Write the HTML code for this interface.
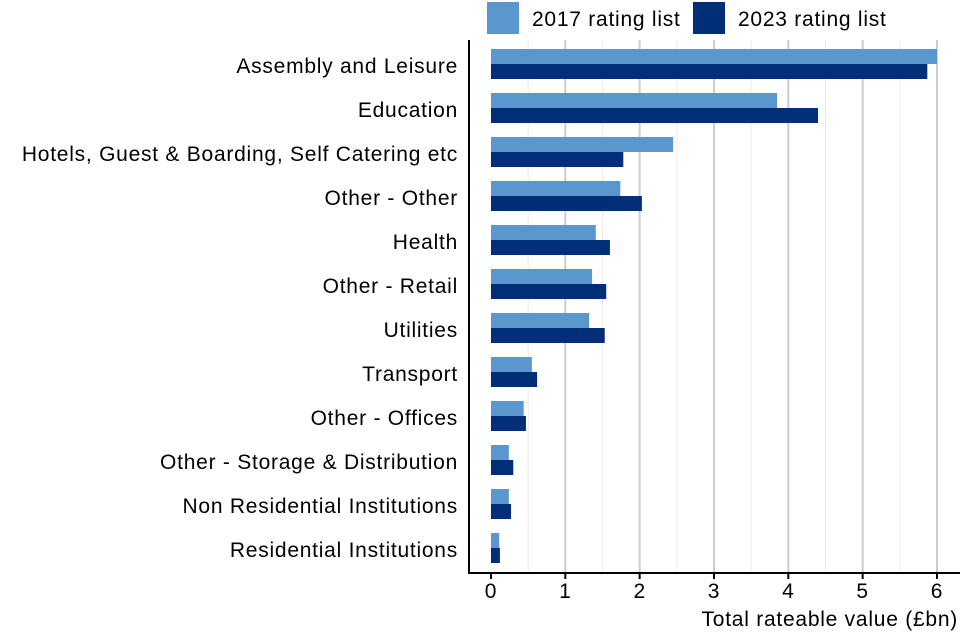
<!DOCTYPE html>
<html><head><meta charset="utf-8"><style>
html,body{margin:0;padding:0;background:#fff;}
svg{display:block;font-family:"Liberation Sans",Arial,sans-serif;}
svg text{letter-spacing:0.75px;}
</style></head><body>
<svg id="chart" width="960" height="640"></svg>
<script>
const categories=["Assembly and Leisure","Education","Hotels, Guest & Boarding, Self Catering etc","Other - Other","Health","Other - Retail","Utilities","Transport","Other - Offices","Other - Storage & Distribution","Non Residential Institutions","Residential Institutions"];
const values2017=[6.0,3.85,2.45,1.74,1.41,1.36,1.32,0.55,0.44,0.24,0.24,0.11];
const values2023=[5.87,4.40,1.78,2.03,1.60,1.55,1.53,0.62,0.47,0.30,0.27,0.12];
const xTicks=[0,1,2,3,4,5,6];
const seriesNames=["2017 rating list","2023 rating list"];

const NS="http://www.w3.org/2000/svg";
const svg=document.getElementById('chart');
const C1="#5b97cf",C2="#002f78";
const x0=491,pxPerUnit=74.33;
const xs=v=>x0+v*pxPerUnit;
const yc=i=>64+i*44;
function mk(t,a){const e=document.createElementNS(NS,t);for(const k in a)e.setAttribute(k,a[k]);svg.appendChild(e);return e;}

for(let v=0.5;v<=6.5;v+=0.5){
  const x=xs(v); if(x>960)break;
  const major=Number.isInteger(v);
  const g=mk('line',{x1:x,x2:x,y1:40,y2:573,stroke:major?'#cccccc':'#ebebeb','stroke-width':major?2:1});
  
  
}
categories.forEach((c,i)=>{
  const b1=mk('rect',{x:xs(0),y:yc(i)-15,width:xs(values2017[i])-xs(0),height:15,fill:C1});
  
  
  const b2=mk('rect',{x:xs(0),y:yc(i),width:xs(values2023[i])-xs(0),height:15,fill:C2});
  
  
  const t=mk('text',{x:458,y:yc(i)+9,'text-anchor':'end','font-size':21,fill:'#000'});
  t.textContent=c;
  
  
});
const ya=mk('line',{x1:469,x2:469,y1:40,y2:574,stroke:'#000','stroke-width':2});


const xa=mk('line',{x1:468,x2:960,y1:573,y2:573,stroke:'#000','stroke-width':2});


xTicks.forEach(v=>{
  const tk=mk('line',{x1:xs(v),x2:xs(v),y1:573,y2:579,stroke:'#000','stroke-width':2});
  
  
  const tl=mk('text',{x:xs(v),y:598,'text-anchor':'middle','font-size':21,fill:'#000'});
  tl.textContent=v;
  
  
});
const xt=mk('text',{x:958,y:626,'text-anchor':'end','font-size':21,fill:'#000'});
xt.textContent="Total rateable value (£bn)";


[[487,532,C1],[693,738,C2]].forEach((p,k)=>{
  const r=mk('rect',{x:p[0],y:2,width:32,height:32,fill:p[2]});
  
  
  const t=mk('text',{x:p[1],y:26,'font-size':21,fill:'#000'});
  t.textContent=seriesNames[k];
  
  
});
</script>
</body></html>
